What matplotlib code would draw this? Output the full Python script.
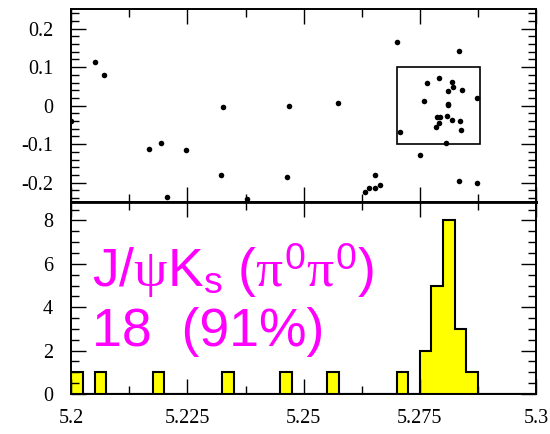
import numpy as np
import matplotlib
matplotlib.use("Agg")
import matplotlib.pyplot as plt
from matplotlib import font_manager
from matplotlib.patches import Rectangle
from matplotlib.ticker import MultipleLocator, FixedLocator

# A condensed sans face for the big label, if the system has one
_names = {f.name for f in font_manager.fontManager.ttflist}
if 'Liberation Sans Narrow' in _names:
    label_font, label_size = 'Liberation Sans Narrow', 45
else:
    label_font, label_size = 'Liberation Sans', 38.5

plt.rcParams['font.family'] = ['Liberation Serif', 'DejaVu Serif']
plt.rcParams['mathtext.fontset'] = 'custom'
plt.rcParams['mathtext.rm'] = label_font
plt.rcParams['mathtext.it'] = 'Liberation Serif'
plt.rcParams['mathtext.bf'] = label_font + ':bold'

# Candidate events: beam-constrained mass (GeV) and Delta E (GeV)
mbc = [5.2000, 5.2052, 5.2070, 5.2168, 5.2194, 5.2246, 5.2205, 5.2327, 5.2323,
       5.2379, 5.2468, 5.2464, 5.2573, 5.2701, 5.2834, 5.2631, 5.2641, 5.2654,
       5.2664, 5.2654, 5.2751, 5.2834, 5.2873, 5.2707, 5.2766, 5.2791, 5.2820,
       5.2822, 5.2810, 5.2841, 5.2872, 5.2760, 5.2810, 5.2811, 5.2786, 5.2793,
       5.2808, 5.2819, 5.2836, 5.2792, 5.2785, 5.2838, 5.2807]
delta_e = [-0.040, 0.112, 0.079, -0.113, -0.096, -0.114, -0.237, -0.003, -0.179,
           -0.241, 0.000, -0.184, 0.008, 0.165, 0.141, -0.223, -0.213, -0.214,
           -0.206, -0.180, -0.129, -0.196, -0.201, -0.068, 0.060, 0.072, 0.062,
           0.048, 0.037, 0.041, 0.021, 0.011, 0.005, 0.002, -0.029, -0.029,
           -0.027, -0.036, -0.040, -0.045, -0.056, -0.063, -0.097]

# Signal box
box_m = (5.270, 5.288)
box_de = (-0.10, 0.10)

# Mbc projection inside the Delta E band (bin width 2.5 MeV)
bin_lo = [5.2000, 5.2050, 5.2175, 5.2325, 5.2450, 5.2550, 5.2700,
          5.2750, 5.2775, 5.2800, 5.2825, 5.2850]
bin_counts = [1, 1, 1, 1, 1, 1, 1, 2, 5, 8, 3, 1]
bin_width = 0.0025

title_line1 = r'J/$\psi$K$_\mathrm{s}$ ($\pi^0\pi^0$)'
title_line2 = '18  (91%)'

fig = plt.figure(figsize=(5.5, 4.34), dpi=100)
left, right = 71.3 / 550, 536 / 550
y_top = 1 - 9.3 / 434
y_mid = 1 - 202 / 434
y_bot = 1 - 394 / 434
ax1 = fig.add_axes([left, y_mid, right - left, y_top - y_mid])
ax2 = fig.add_axes([left, y_bot, right - left, y_mid - y_bot], sharex=ax1)

# scatter
ax1.plot(mbc, delta_e, 'o', color='black', markersize=4.0, markeredgewidth=0)
ax1.add_patch(Rectangle((box_m[0], box_de[0]), box_m[1] - box_m[0],
                        box_de[1] - box_de[0], fill=False,
                        edgecolor='black', linewidth=1.2))
ax1.set_ylim(-0.25, 0.25)
ax1.yaxis.set_major_locator(FixedLocator([-0.2, -0.1, 0.0, 0.1, 0.2]))
ax1.yaxis.set_minor_locator(MultipleLocator(0.02))
ax1.set_yticklabels(['-0.2', '-0.1', '0', '0.1', '0.2'])

# histogram
edges = np.round(np.arange(5.2, 5.3 + bin_width / 2, bin_width), 5)
centers = np.array(bin_lo) + bin_width / 2
ax2.hist(centers, bins=edges, weights=bin_counts, histtype='stepfilled',
         facecolor='#ffff00', edgecolor='black', linewidth=1.5)
ax2.set_ylim(0, 8.85)
ax2.yaxis.set_major_locator(FixedLocator([0, 2, 4, 6, 8]))
ax2.yaxis.set_minor_locator(MultipleLocator(0.5))

ax1.set_xlim(5.2, 5.3)
for ax in (ax1, ax2):
    ax.xaxis.set_major_locator(FixedLocator([5.2, 5.225, 5.25, 5.275, 5.3]))
    ax.xaxis.set_minor_locator(MultipleLocator(0.0125))
    ax.tick_params(which='both', direction='in', top=True, right=True,
                   width=1.0, labelsize=14.5)
    ax.tick_params(axis='y', pad=13)
    ax.tick_params(axis='x', pad=11)
    ax.tick_params(which='major', length=11)
    ax.tick_params(which='minor', length=6)
    for sp in ax.spines.values():
        sp.set_linewidth(1.4)
ax1.tick_params(labelbottom=False)
ax1.spines['bottom'].set_linewidth(2.0)
ax2.spines['top'].set_linewidth(2.0)
ax2.set_xticklabels(['5.2', '5.225', '5.25', '5.275', '5.3'])

ax2.text(5.2045, 4.93, title_line1, color='#ff00ff', fontsize=label_size,
         family=label_font, va='baseline', ha='left')
ax2.text(5.2045, 2.23, title_line2, color='#ff00ff', fontsize=label_size,
         family=label_font, va='baseline', ha='left')

fig.savefig('out.png', dpi=100)
